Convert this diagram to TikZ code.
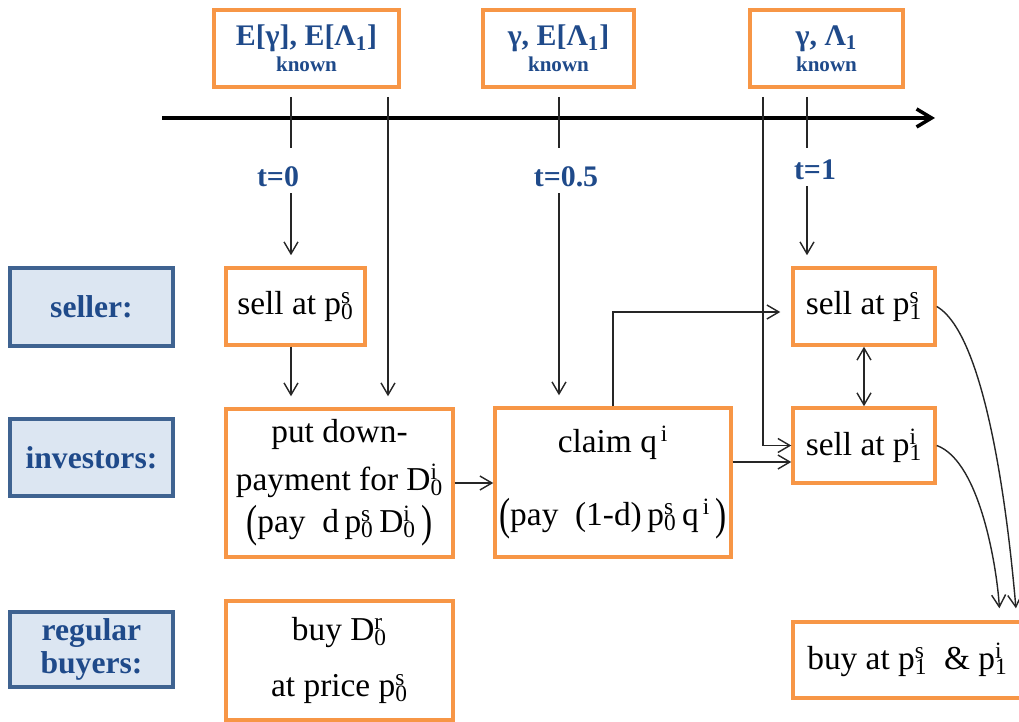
\documentclass[tikz,border=0pt]{standalone}
\usepackage{fontspec}
\setmainfont{Liberation Serif}
\usepackage{graphicx}
\usetikzlibrary{calc,arrows.meta}
\definecolor{boxorange}{HTML}{F79646}
\definecolor{labelblue}{HTML}{1F4A8A}
\definecolor{labelfill}{HTML}{DCE6F2}
\definecolor{labelline}{HTML}{3F6391}
\newcommand\pidx[3]{#1\rlap{\textsuperscript{#3}}\textsubscript{#2}}
\newcommand\lpar{\raisebox{-0.12em}{\scalebox{1}[1.35]{(}}}
\newcommand\rpar{\raisebox{-0.12em}{\scalebox{1}[1.35]{)}}}

\begin{document}
\begin{tikzpicture}[x=0.02cm,y=-0.02cm,
	obox/.style={draw=boxorange,line width=2pt,inner sep=0pt,align=center,font=\fontsize{19}{23}\selectfont},
	tbox/.style={obox,text=labelblue,font=\bfseries\fontsize{17}{15}\selectfont},
	lbox/.style={draw=labelline,fill=labelfill,line width=2.2pt,inner sep=0pt,align=center,text=labelblue,minimum width=3.26cm,font=\bfseries\fontsize{18}{19}\selectfont},
	tlabel/.style={text=labelblue,font=\bfseries\fontsize{17}{20}\selectfont},
	conn/.style={line width=0.8pt,black!85},
	arr/.style={conn,-{Straight Barb[length=2.4mm,width=2.8mm]}},
	darr/.style={conn,{Straight Barb[length=2.4mm,width=2.8mm]}-{Straight Barb[length=2.4mm,width=2.8mm]}},
	gap/.style={shorten >=0.22cm}]
			%%%%% START %%%%%
			\clip (0,0) rectangle (1019,722);
			
			% what is known when
			\node[tbox,minimum width=3.7cm,minimum height=1.54cm] (known0) at (306.5,48.5) {E[γ], E[Λ\textsubscript{1}]\\{\fontsize{12}{15}\selectfont known}};
			\node[tbox,minimum width=3.02cm,minimum height=1.54cm] (known05) at (558.5,48.5) {γ, E[Λ\textsubscript{1}]\\{\fontsize{12}{15}\selectfont known}};
			\node[tbox,minimum width=3.06cm,minimum height=1.54cm] (known1) at (826.5,48.5) {γ, Λ\textsubscript{1}\\{\fontsize{12}{15}\selectfont known}};
			
			% time line
			\coordinate (tl0) at (162,118);
			\coordinate (tl1) at (935,118);
			\draw[line width=2pt,-{Straight Barb[length=3mm,width=3.6mm]}] (tl0) -- (tl1);
			
			\coordinate (tk0) at (291,97);
			\coordinate (tk05) at (559,97);
			\coordinate (tk1) at (807,97);
			\coordinate (lg0) at (388,97);
			\coordinate (lg1) at (763,97);
			\draw[conn] (tk0) -- ++(0,51);
			\draw[conn] (tk05) -- ++(0,51);
			\draw[conn] (tk1) -- ++(0,51);
			
			\node[tlabel] (t0) at (278,177) {t=0};
			\node[tlabel] (t05) at (566,177) {t=0.5};
			\node[tlabel] (t1) at (815,170) {t=1};
			
			% agents
			\node[lbox,minimum height=1.56cm] (seller) at (91.5,307) {seller:};
			\node[lbox,minimum height=1.54cm] (investors) at (91.5,457.5) {investors:};
			\node[lbox,minimum height=1.5cm] (regular) at (91.5,649.5) {regular\\buyers:};
			
			% actions
			\node[obox,minimum width=2.78cm,minimum height=1.54cm] (sell0) at (295.5,306.5) {sell at \pidx{p}{0}{s}};
			\node[obox,minimum width=4.54cm,minimum height=2.96cm] (down) at (339.5,483) {put down-\\[4pt]payment for \pidx{D}{0}{i}\\[1pt]\lpar pay\ \ d\,\pidx{p}{0}{s}\,\pidx{D}{0}{i}\,\rpar};
			\node[obox,minimum width=4.54cm,minimum height=2.38cm] (buy0) at (339.5,660.5) {buy \pidx{D}{0}{r}\\[9pt]at price \pidx{p}{0}{s}};
			\node[obox,minimum width=4.72cm,minimum height=2.98cm] (claim) at (613,482.5) {claim q\textsuperscript{\,i}\\[19pt]\lpar pay\ \ (1-d)\,\pidx{p}{0}{s}\,q\textsuperscript{\,i}\,\rpar};
			\node[obox,minimum width=2.84cm,minimum height=1.54cm] (sells1) at (864,306.5) {sell at \pidx{p}{1}{s}};
			\node[obox,minimum width=2.84cm,minimum height=1.5cm] (selli1) at (864,445.5) {sell at \pidx{p}{1}{i}};
			\node[obox,minimum width=4.58cm,minimum height=1.52cm] (buy1) at (907.5,660) {buy at \pidx{p}{1}{s}\ \ \& \pidx{p}{1}{i}};
			
			% flows
			\draw[arr,gap] (tk0 |- t0.south) -- (tk0 |- sell0.north);
			\draw[arr,gap] (tk05 |- t05.south) -- (tk05 |- claim.north);
			\draw[arr,gap] (tk1 |- t1.south) -- (tk1 |- sells1.north);
			\draw[arr,gap] (lg0) -- (lg0 |- down.north);
			\draw[arr] (lg1) |- (selli1.west);
			\draw[arr,gap] (tk0 |- sell0.south) -- (tk0 |- down.north);
			\draw[arr] (down.east) -- (down.east -| claim.west);
			\draw[arr,gap] (claim.north) |- ([yshift=-0.11cm]sells1.west);
			\draw[arr] ([yshift=0.41cm]claim.east) -- ([yshift=0.41cm]claim.east -| selli1.west);
			\draw[darr] (sells1.south) -- (selli1.north);
			\draw[arr,shorten >=0.24cm] (sells1.east) to[out=-30,in=95,looseness=0.5] ([xshift=2.19cm]buy1.north);
			\draw[arr,shorten >=0.24cm] (selli1.east) to[out=-20,in=93,looseness=0.65] ([xshift=1.85cm]buy1.north);
			%%%%% END %%%%%
\end{tikzpicture}
\end{document}
